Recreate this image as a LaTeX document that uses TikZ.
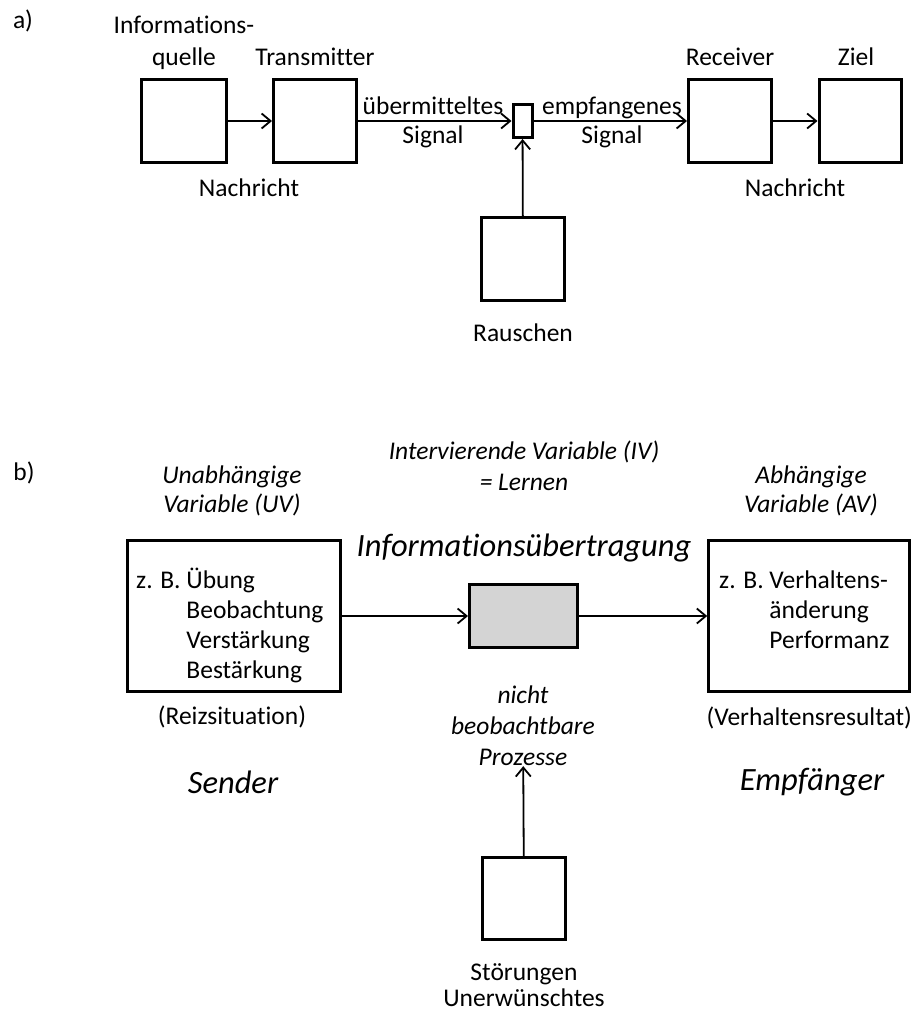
\documentclass[tikz,border=0pt]{standalone}
\usepackage{fontspec}
\setmainfont{Carlito}[Ligatures=NoCommon]
\usetikzlibrary{arrows.meta}
\usetikzlibrary{positioning}

\begin{document}
\begin{tikzpicture}[x=1pt,y=-1pt,
    every node/.style={font=\fontsize{25.5}{30}\selectfont},
    blk/.style={draw,line width=3pt,inner sep=0pt},
    lbl/.style={align=center,inner sep=0pt},
    ital/.style={align=center,inner sep=0pt,font=\fontsize{25.5}{30}\selectfont\itshape},
    big/.style={inner sep=0pt,font=\fontsize{32.5}{36}\selectfont\itshape},
    pfeil/.style={line width=1.8pt,-{Straight Barb[length=9pt,width=15pt,line width=1.8pt]}}]
    \useasboundingbox (0,0) rectangle (914,1014);

    % a) Kommunikationsmodell
    \node[lbl] (la) at (23,21) {a)};
    \node[blk,minimum width=85pt,minimum height=83pt] (quelle) at (184,121) {};
    \node[blk,minimum width=83pt,minimum height=83pt] (trans) at (315,121) {};
    \node[blk,minimum width=19pt,minimum height=33pt] (kanal) at (522.5,121) {};
    \node[blk,minimum width=83pt,minimum height=83pt] (rec) at (730,121) {};
    \node[blk,minimum width=82pt,minimum height=83pt] (ziel) at (860,121) {};
    \node[blk,minimum width=83pt,minimum height=83pt] (rausch) at (523,259) {};

    \node[lbl,font=\fontsize{25.5}{32}\selectfont] at (184,43) {Informations-\\quelle};
    \node[lbl] at (315,57) {Transmitter};
    \node[lbl] at (730,57) {Receiver};
    \node[lbl] at (856,57) {Ziel};
    \node[lbl,font=\fontsize{25.5}{29}\selectfont] at (433,122) {übermitteltes\\Signal};
    \node[lbl,font=\fontsize{25.5}{29}\selectfont] at (612,122) {empfangenes\\Signal};
    \node[lbl] at (249,188) {Nachricht};
    \node[lbl] at (795,188) {Nachricht};
    \node[lbl] at (523,333) {Rauschen};

    \draw[pfeil] (quelle) -- (trans);
    \draw[pfeil] (trans) -- (kanal);
    \draw[pfeil] (kanal) -- (rec);
    \draw[pfeil] (rec) -- (ziel);
    \draw[pfeil] (rausch) -- (kanal);

    % b) Lernen als Informationsuebertragung
    \node[lbl] (lb) at (24,473) {b)};
    \node[blk,line width=2.6pt,minimum width=213pt,minimum height=151pt] (uv) at (234,616) {};
    \node[blk,fill=black!17,minimum width=108pt,minimum height=63pt] (iv) at (523.5,616) {};
    \node[blk,line width=2.6pt,minimum width=201pt,minimum height=151pt] (av) at (809,616) {};
    \node[blk,minimum width=83pt,minimum height=82pt] (stoer) at (524,898.5) {};

    \node[anchor=west,inner sep=0pt] at (136,627) {%
      \begin{tabular}{@{}l@{ }l@{}}
        z. B. & Übung\\
              & Beobachtung\\
              & Verstärkung\\
              & Bestärkung
      \end{tabular}};
    \node[anchor=west,inner sep=0pt] at (719,612) {%
      \begin{tabular}{@{}l@{ }l@{}}
        z. B. & Verhaltens-\\
              & änderung\\
              & Performanz
      \end{tabular}};

    \node[ital,font=\fontsize{25.5}{29}\selectfont\itshape] at (232,491) {Unabhängige\\Variable (UV)};
    \node[ital,font=\fontsize{25.5}{29}\selectfont\itshape] at (811,491) {Abhängige\\Variable (AV)};
    \node[ital,font=\fontsize{25.5}{31}\selectfont\itshape] at (524,466) {Intervierende Variable (IV)\\= Lernen};
    \node[big] at (524,548) {Informationsübertragung};
    \node[lbl] at (232,717) {(Reizsituation)};
    \node[lbl,anchor=east] at (912,718) {(Verhaltensresultat)};
    \node[big] at (233,782) {Sender};
    \node[big] at (812,782) {Empfänger};
    \node[ital,font=\fontsize{25.5}{31}\selectfont\itshape] (proz) at (523,726) {nicht\\beobachtbare\\Prozesse};
    \node[lbl,font=\fontsize{25.5}{26}\selectfont] at (524,985) {Störungen\\Unerwünschtes};

    \draw[pfeil] (uv) -- (iv);
    \draw[pfeil] (iv) -- (av);
    \draw[pfeil] (stoer) -- (proz);
\end{tikzpicture}
\end{document}
